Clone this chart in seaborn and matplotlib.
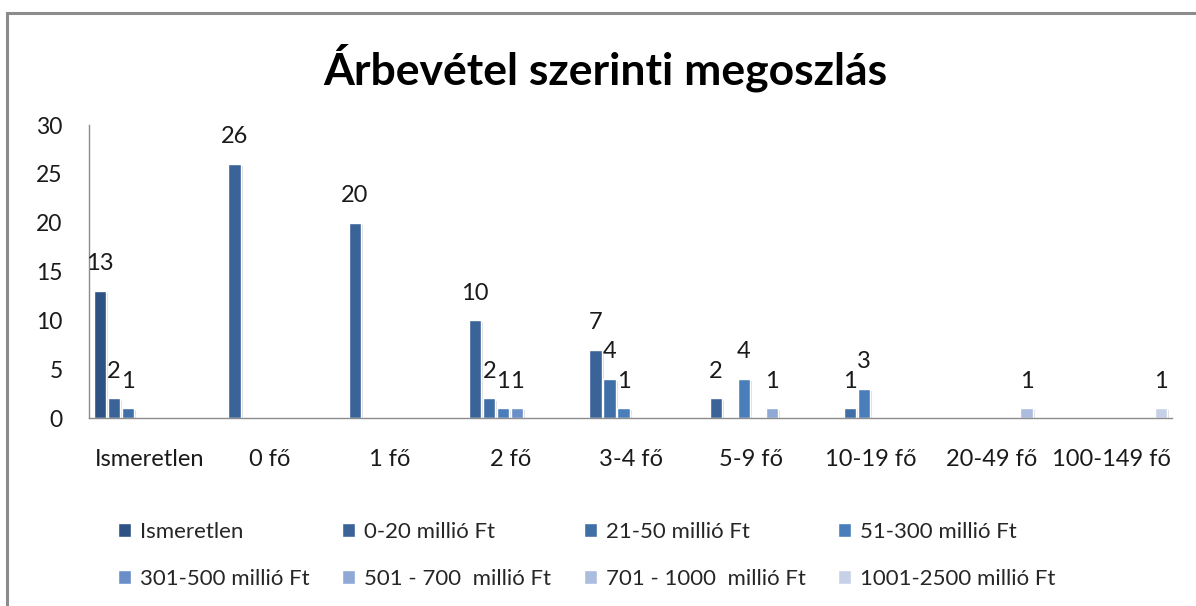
import numpy as np
import matplotlib.pyplot as plt
import matplotlib.patheffects as pe
from matplotlib.patches import Rectangle
import seaborn as sns
import pandas as pd

categories = ["Ismeretlen", "0 fő", "1 fő", "2 fő", "3-4 fő",
              "5-9 fő", "10-19 fő", "20-49 fő", "100-149 fő"]

series = ["Ismeretlen", "0-20 millió Ft", "21-50 millió Ft", "51-300 millió Ft",
          "301-500 millió Ft", "501 - 700  millió Ft", "701 - 1000  millió Ft",
          "1001-2500 millió Ft"]

# one list per revenue band, None = no bar in that category
ismeretlen = [13, None, None, None, None, None, None, None, None]
m0_20 = [2, 26, 20, 10, 7, 2, None, None, None]
m21_50 = [1, None, None, 2, 4, None, 1, None, None]
m51_300 = [None, None, None, 1, 1, 4, 3, None, None]
m301_500 = [None, None, None, 1, None, None, None, None, None]
m501_700 = [None, None, None, None, None, 1, None, None, None]
m701_1000 = [None, None, None, None, None, None, None, 1, None]
m1001_2500 = [None, None, None, None, None, None, None, None, 1]

colors = ["#2e5283", "#3a6397", "#406ea7", "#4a7ebb",
          "#6a8ec8", "#8fa8d5", "#abbcde", "#c6d0e7"]

rows = []
for name, vals in zip(series, [ismeretlen, m0_20, m21_50, m51_300,
                               m301_500, m501_700, m701_1000, m1001_2500]):
    for cat, v in zip(categories, vals):
        if v is not None:
            rows.append({"kategoria": cat, "sav": name, "db": v})
df = pd.DataFrame(rows)

sns.set_style("white")
plt.rcParams["font.family"] = ["Lato", "DejaVu Sans"]

fig = plt.figure(figsize=(11.96, 6.06), dpi=100)
ax = fig.add_axes([0.0744, 0.3102, 0.9056, 0.4835])

sns.barplot(
    data=df,
    x="kategoria",
    y="db",
    hue="sav",
    order=categories,
    hue_order=series,
    palette=colors,
    width=0.93,
    gap=0.12,
    saturation=1,
    ax=ax
)

shadow = [pe.SimplePatchShadow(offset=(1.5, -1.5), shadow_rgbFace="#999999", alpha=0.35), pe.Normal()]
for c in ax.containers:
    for p in c:
        p.set_path_effects(shadow)
    ax.bar_label(c, fmt="%g", padding=12, fontsize=17, color="#1a1a1a")

ax.set_ylim(0, 30)
ax.set_yticks(range(0, 31, 5))
ax.set_xlim(-0.5, len(categories) - 0.5)
ax.set_xlabel("")
ax.set_ylabel("")
ax.tick_params(axis="x", length=0, pad=22, labelsize=17, colors="#1a1a1a")
ax.tick_params(axis="y", length=0, pad=19, labelsize=16.5, colors="#1a1a1a")

for s in ["top", "right"]:
    ax.spines[s].set_visible(False)
for s in ["left", "bottom"]:
    ax.spines[s].set_color("#8c8c8c")
    ax.spines[s].set_linewidth(1)

handles, labels = ax.get_legend_handles_labels()
ax.get_legend().remove()
order = [0, 4, 1, 5, 2, 6, 3, 7]
fig.legend(
    [handles[i] for i in order],
    [labels[i] for i in order],
    ncol=4,
    loc="upper left",
    bbox_to_anchor=(118 / 1196, 1 - 522 / 606),
    frameon=False,
    fontsize=16,
    handlelength=0.6,
    handleheight=0.6,
    handletextpad=0.4,
    columnspacing=1.45,
    labelspacing=1.2,
    borderpad=0,
    borderaxespad=0
)

fig.text(605 / 1196, 1 - 68 / 606, "Árbevétel szerinti megoszlás",
         ha="center", va="center", fontsize=32, fontweight="bold", color="#000000")

fig.patches.append(Rectangle((7 / 1196, -0.05), 1.2, 1 - 13 / 606 + 0.05,
                             transform=fig.transFigure, fill=False,
                             edgecolor="#8c8c8c", linewidth=2.2))

fig.savefig("out.png", dpi=100)
